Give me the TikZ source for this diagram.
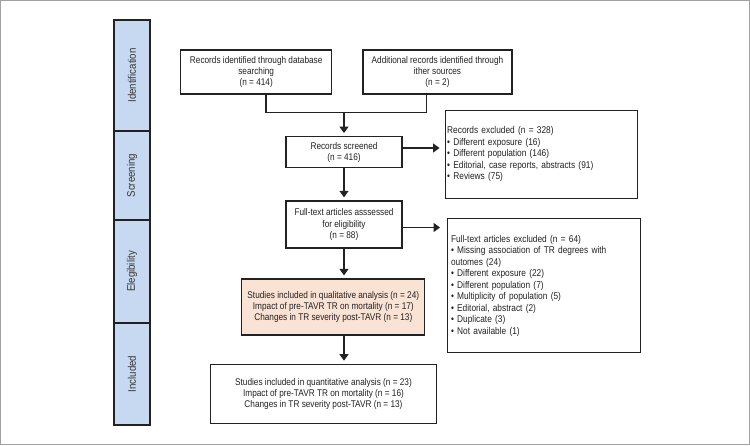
\documentclass[tikz,border=0pt]{standalone}
\usepackage{fontspec}
\setmainfont[FakeStretch=0.85]{Liberation Sans}
\newfontfamily\sidefont[FakeStretch=0.88]{Liberation Sans}
\usetikzlibrary{arrows.meta,calc}
\definecolor{sideblue}{RGB}{198,217,240}
\definecolor{peach}{RGB}{250,226,212}
\definecolor{ink}{RGB}{34,34,34}
\definecolor{frame}{RGB}{160,160,160}
\tikzset{
  box/.style={draw=ink, line width=1.3pt, fill=white, inner sep=0pt, align=center, font=\fontsize{9.7}{11.3}\selectfont, text=ink},
  exbox/.style={draw=ink, line width=1.3pt, fill=white, inner sep=0pt, font=\fontsize{9.8}{11.55}\selectfont, text=ink},
  side/.style={draw=ink, line width=1.2pt, fill=sideblue, minimum width=36pt, inner sep=0pt, font=\sidefont\fontsize{11}{12}\selectfont, text={rgb,255:red,55;green,55;blue,55}},
  conn/.style={draw=ink, line width=1.3pt},
  arr/.style={conn, -{Triangle[width=9pt,length=6.5pt]}}
}
\begin{document}
\begin{tikzpicture}[x=1pt,y=-1pt]
\useasboundingbox (0,0) rectangle (750,445);
\draw[frame, line width=1pt] (0.5,0.5) rectangle (749.5,444.5);
% side bars
\node[side, minimum height=111pt] (sid) at (132,75.5) {\rotatebox{90}{Identification}};
\node[side, minimum height=89pt] (sscr) at (132,175.5) {\rotatebox{90}{Screening}};
\node[side, minimum height=103pt] (selg) at (132,271.5) {\rotatebox{90}{Elegibility}};
\node[side, minimum height=102pt] (sinc) at (132,374) {\rotatebox{90}{Included}};
% boxes
\node[box, minimum width=151pt, minimum height=44pt] (b1) at (256.2,72) {Records identified through database\\searching\\(n = 414)};
\node[box, minimum width=149pt, minimum height=44pt] (b2) at (437.5,72) {Additional records identified through\\ither sources\\(n = 2)};
\node[box, minimum width=116pt, minimum height=31pt] (b3) at (344,152.2) {Records screened\\(n = 416)};
\node[box, minimum width=116pt, minimum height=47pt] (b4) at (344,224.5) {Full-text articles asssessed\\for eligibility\\(n = 88)};
\node[box, fill=peach, minimum width=183pt, minimum height=56pt] (b5) at (333.3,307) {Studies included in qualitative analysis (n = 24)\\Impact of pre-TAVR TR on mortality (n = 17)\\Changes in TR severity post-TAVR (n = 13)};
\node[box, minimum width=226pt, minimum height=59pt] (b6) at (323.5,393.8) {Studies included in quantitative analysis (n = 23)\\Impact of pre-TAVR TR on mortality (n = 16)\\Changes in TR severity post-TAVR (n = 13)};
\node[exbox, minimum width=192pt, minimum height=88pt, text width=188pt, align=left] (e1) at (541.2,154.3) {Records excluded (n = 328)\\\textbullet\ Different exposure (16)\\\textbullet\ Different population (146)\\\textbullet\ Editorial, case reports, abstracts (91)\\\textbullet\ Reviews (75)};
\node[exbox, minimum width=192.6pt, minimum height=134pt, text width=186pt, align=left] (e2) at (544,285.7) {Full-text articles excluded (n = 64)\\\textbullet\ Missing association of TR degrees with\\outomes (24)\\\textbullet\ Different exposure (22)\\\textbullet\ Different population (7)\\\textbullet\ Multiplicity of population (5)\\\textbullet\ Editorial, abstract (2)\\\textbullet\ Duplicate (3)\\\textbullet\ Not available (1)};
% connectors
\coordinate (m1) at (266,112.7);
\coordinate (m2) at (426.7,112.7);
\coordinate (mc) at (344,112.7);
\draw[conn] (b1.south -| m1) -- (m1) -- (m2) -- (b2.south -| m2);
\draw[arr, shorten >=3pt] (mc) -- (b3.north);
\draw[arr, shorten >=3pt] (b3.south) -- (b4.north);
\draw[arr, shorten >=3pt] (b4.south) -- (b4.south |- b5.north);
\draw[arr, shorten >=3pt] (b4.south |- b5.south) -- (b4.south |- b6.north);
\draw[arr, shorten >=5pt] (b3.east |- 0,148) -- (e1.west |- 0,148);
\draw[arr, shorten >=7pt] (b4.east |- 0,227.5) -- (e2.west |- 0,227.5);
\end{tikzpicture}
\end{document}
